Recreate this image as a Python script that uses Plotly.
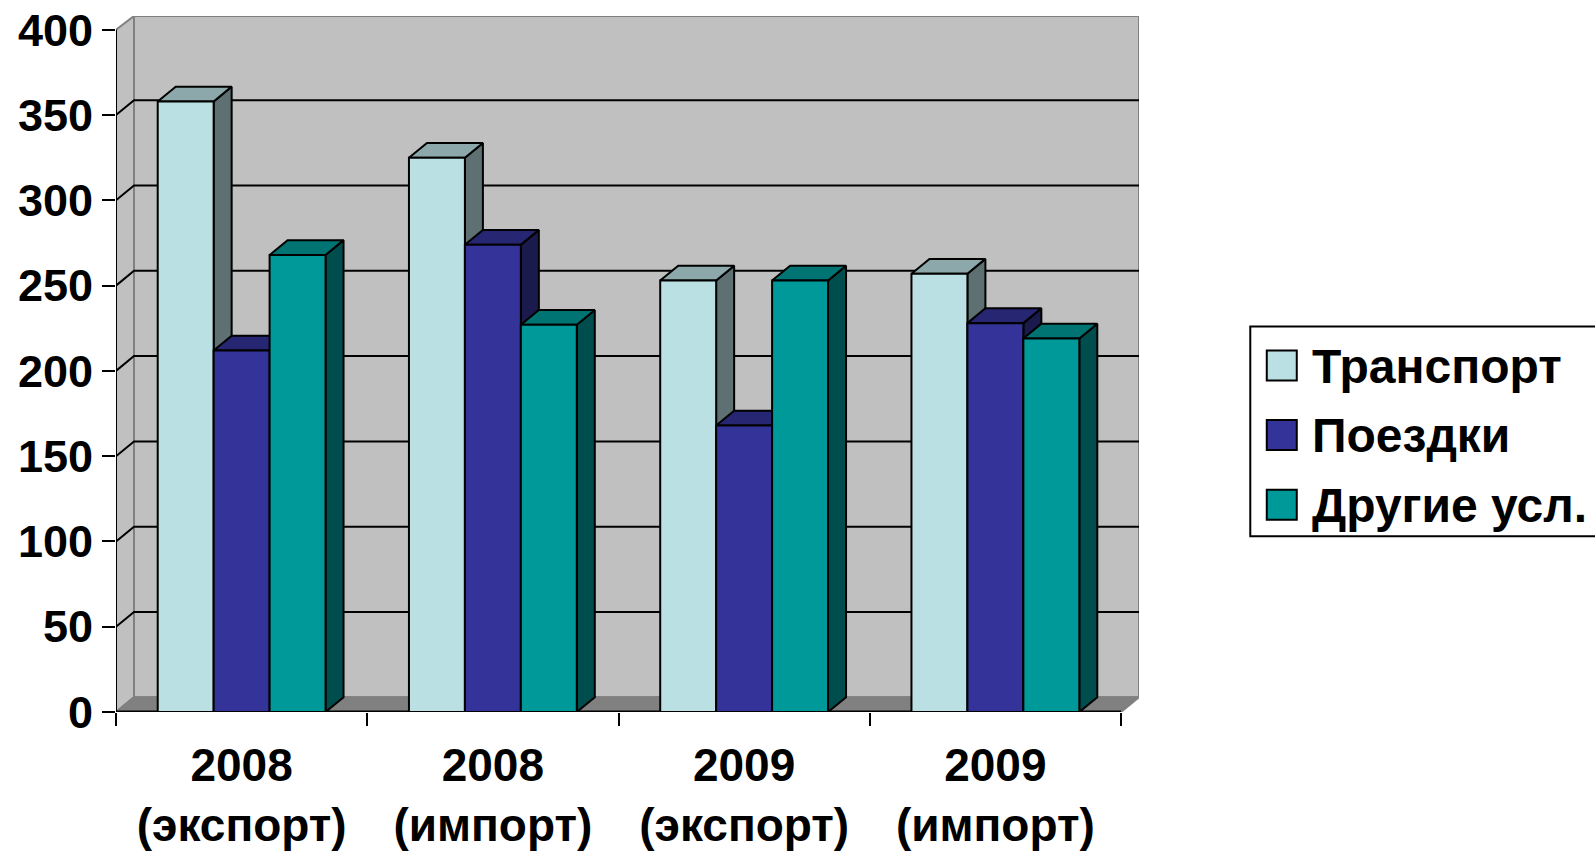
import plotly.graph_objects as go

categories = ["2008<br>(экспорт)", "2008<br>(импорт)", "2009<br>(экспорт)", "2009<br>(импорт)"]
series_names = ["Транспорт", "Поездки", "Другие усл."]
transport = [358, 325, 253, 257]
trips = [212, 274, 168, 228]
other = [268, 227, 253, 219]
y_ticks = [0, 50, 100, 150, 200, 250, 300, 350, 400]

series_values = [transport, trips, other]
front = ["#BBE0E3", "#333399", "#009999"]
side = ["#5E7072", "#1A1A4D", "#004D4D"]
top = ["#8CA8AA", "#262673", "#007373"]

W, H = 1595, 854
PX_L, PX_R, PX_T, PX_B = 115.5, 1138.7, 15.5, 711.7
CAT_PX = 251.3
UNIT_PX = 1.706
DX = 18.0 / CAT_PX          # depth in category units
DY = 14.8 / UNIT_PX         # depth in value units
XMIN, XMAX = -0.5, 3.5 + DX
YMAX = (PX_B - PX_T) / UNIT_PX
BARGAP = 0.332
BW = (1 - BARGAP) / 3
FONT = "Liberation Sans"
FS = 46


def poly(xs, ys, fill, line="#000000", width=2):
    return go.Scatter(x=xs, y=ys, mode="lines", fill="toself", fillcolor=fill,
                      line=dict(color=line, width=width), hoverinfo="skip",
                      showlegend=False, xaxis="x", yaxis="y", cliponaxis=False)


def seg(xs, ys, color="#000000", width=2):
    return go.Scatter(x=xs, y=ys, mode="lines", line=dict(color=color, width=width),
                      hoverinfo="skip", showlegend=False, xaxis="x", yaxis="y",
                      cliponaxis=False)


fig = go.Figure()

# walls and floor
fig.add_trace(poly([XMIN + DX, XMAX, XMAX, XMIN + DX, XMIN + DX], [DY, DY, YMAX, YMAX, DY], "#C0C0C0", "#808080"))
fig.add_trace(poly([XMIN, XMIN + DX, XMIN + DX, XMIN, XMIN], [0, DY, YMAX, 400, 0], "#C0C0C0", "#808080"))
fig.add_trace(poly([XMIN, 3.5, XMAX, XMIN + DX, XMIN], [0, 0, DY, DY, 0], "#808080", "#808080"))

# gridlines on the walls
for v in y_ticks[1:-1]:
    fig.add_trace(seg([XMIN, XMIN + DX, XMAX], [v, v + DY, v + DY]))

# front axis lines
fig.add_trace(seg([XMIN, XMIN], [0, 400]))
fig.add_trace(seg([XMIN, 3.5], [0, 0], width=3))

# side and top faces, painted back to front beneath the bars
for c in range(len(categories)):
    for s, vals in enumerate(series_values):
        v = vals[c]
        xl = c - 3 * BW / 2 + s * BW
        xr = xl + BW
        fig.add_trace(poly([xr, xr + DX, xr + DX, xr, xr], [0, DY, v + DY, v, 0], side[s]))
        fig.add_trace(poly([xl, xl + DX, xr + DX, xr, xl], [v, v + DY, v + DY, v, v], top[s]))

# front faces
for s, vals in enumerate(series_values):
    fig.add_trace(go.Bar(x=categories, y=vals, name=series_names[s], marker=dict(color=front[s], line=dict(color="#000000", width=2)),
                         xaxis="x2", yaxis="y2", showlegend=False, hovertemplate="%{y}<extra>" + series_names[s] + "</extra>"))


def px(x):
    return (x - PX_L) / (PX_R - PX_L)


def py(y):
    return (PX_B - y) / (PX_B - PX_T)


# legend panel
shapes = [dict(type="rect", xref="paper", yref="paper", x0=px(1250), x1=px(1600), y0=py(536), y1=py(326),
               line=dict(color="#000000", width=2), fillcolor="#FFFFFF")]
annotations = []
for s, (y0, y1) in enumerate([(350, 380), (419.5, 449.5), (489.5, 519.5)]):
    shapes.append(dict(type="rect", xref="paper", yref="paper", x0=px(1266.5), x1=px(1296.5), y0=py(y1), y1=py(y0),
                       line=dict(color="#000000", width=2), fillcolor=front[s]))
    annotations.append(dict(xref="paper", yref="paper", x=px(1310), y=py((y0 + y1) / 2 + 1), text="<b>" + series_names[s] + "</b>",
                            showarrow=False, xanchor="left", yanchor="middle",
                            font=dict(family=FONT, size=FS + 2, color="#000000")))

fig.update_layout(
    width=W, height=H, autosize=False,
    margin=dict(l=PX_L, r=W - PX_R, t=PX_T, b=H - PX_B, pad=0, autoexpand=False),
    paper_bgcolor="#FFFFFF", plot_bgcolor="rgba(0,0,0,0)",
    barmode="group", bargap=BARGAP, bargroupgap=0,
    showlegend=False, shapes=shapes, annotations=annotations,
    font=dict(family=FONT, color="#000000"),
    xaxis=dict(range=[XMIN, XMAX], visible=False, fixedrange=True),
    yaxis=dict(range=[0, YMAX], visible=False, fixedrange=True),
    xaxis2=dict(type="category", overlaying="x", anchor="y2", categoryorder="array", categoryarray=categories,
                range=[XMIN, XMAX], tickson="boundaries", ticks="outside", ticklen=13, tickwidth=2,
                tickcolor="#000000", showgrid=False, showline=False, zeroline=False, automargin=False,
                tickangle=0, ticklabelstandoff=22,
                tickfont=dict(family=FONT, size=FS, weight="bold", color="#000000")),
    yaxis2=dict(overlaying="y", anchor="x2", range=[0, YMAX], tickvals=y_ticks, ticks="outside", ticklen=13, tickwidth=2,
                tickcolor="#000000", showgrid=False, showline=False, zeroline=False, automargin=False,
                ticklabelstandoff=0,
                tickfont=dict(family=FONT, size=FS - 1, weight="bold", color="#000000")),
)

fig.write_html("out.html", config=dict(displayModeBar=False), post_script="document.body.style.margin='0';")
